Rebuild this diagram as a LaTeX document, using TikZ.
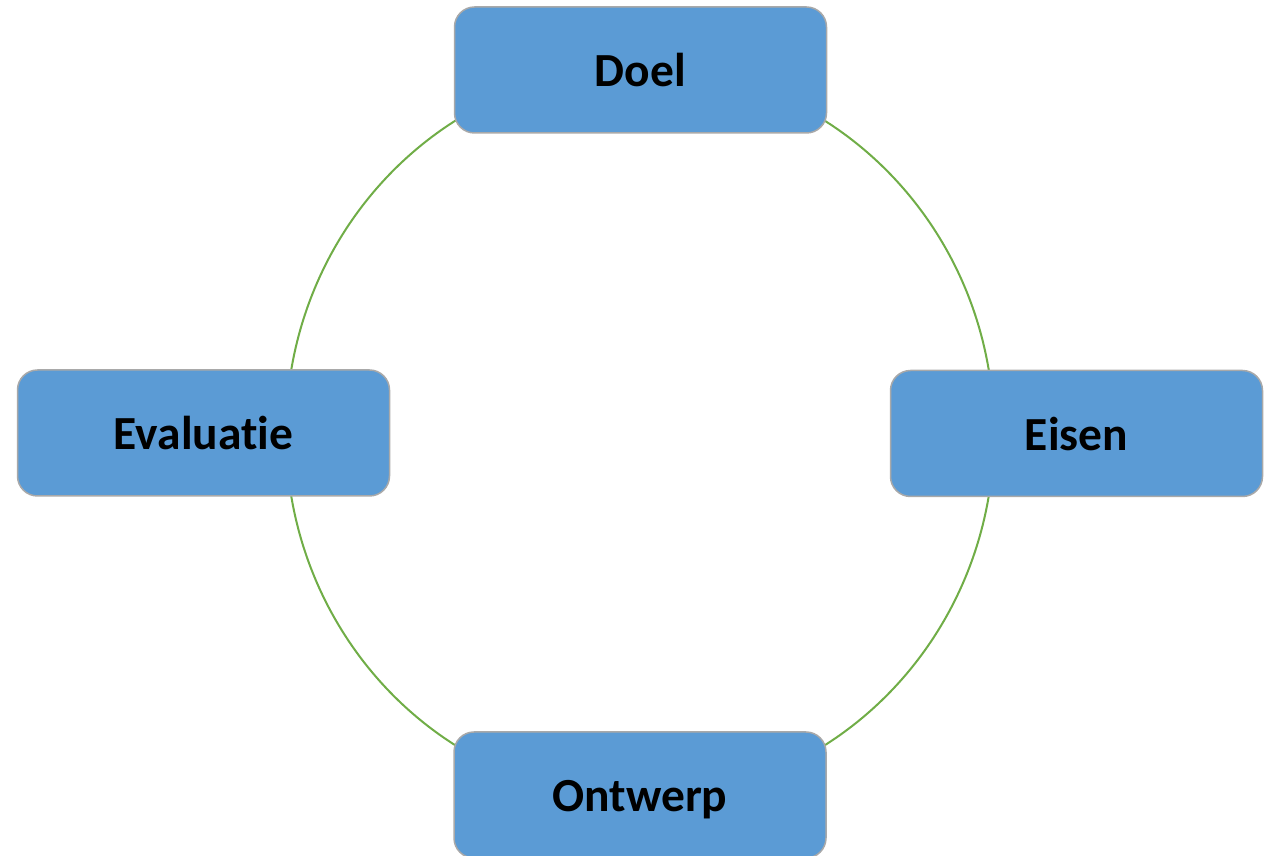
\documentclass[tikz,border=0pt]{standalone}
\usepackage{fontspec}
\setmainfont[Ligatures={NoCommon}]{Carlito}
\definecolor{boxfill}{HTML}{5B9BD5}
\definecolor{boxline}{HTML}{A9A9A9}
\definecolor{ringgreen}{HTML}{70AD47}
\begin{document}
\begin{tikzpicture}[x=1pt,y=1pt,
  stagebox/.style={draw=boxline, line width=1.5pt, fill=boxfill, rounded corners=20pt,
    minimum width=372pt, minimum height=126pt, inner sep=0pt,
    text height=34pt, text depth=0pt,
    font=\fontsize{47.5}{56}\selectfont\bfseries, text=black},
  ring/.style={draw=ringgreen, line width=2pt}]
\useasboundingbox (0,0) rectangle (1270,856);
\coordinate (c) at (640,423);
\draw[ring] (c) ellipse [x radius=354, y radius=366];
\node[stagebox] (doel) at (640.5,786) {Doel};
\node[stagebox] (eisen) at (1076.5,422.5) {Eisen};
\node[stagebox] (evaluatie) at (203.5,423) {Evaluatie};
\node[stagebox] (ontwerp) at (640,61) {Ontwerp};
\end{tikzpicture}
\end{document}
